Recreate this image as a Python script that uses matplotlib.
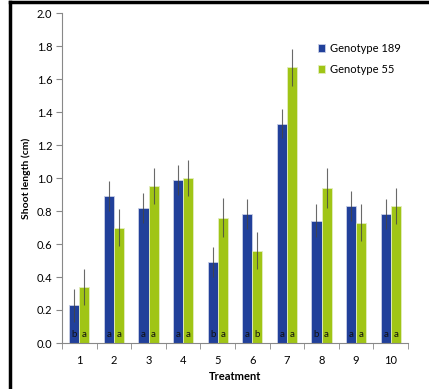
import numpy as np
import matplotlib.pyplot as plt
from matplotlib.lines import Line2D

treatments = ["1", "2", "3", "4", "5", "6", "7", "8", "9", "10"]
g189 = [0.23, 0.89, 0.82, 0.99, 0.49, 0.78, 1.33, 0.74, 0.83, 0.78]
g189_err = [0.10, 0.09, 0.09, 0.09, 0.09, 0.09, 0.09, 0.10, 0.09, 0.09]
g55 = [0.34, 0.70, 0.95, 1.00, 0.76, 0.56, 1.67, 0.94, 0.73, 0.83]
g55_err = [0.11, 0.11, 0.11, 0.11, 0.12, 0.11, 0.11, 0.12, 0.11, 0.11]
g189_letters = ["b", "a", "a", "a", "b", "a", "a", "b", "a", "a"]
g55_letters = ["a", "a", "a", "a", "a", "b", "a", "a", "a", "a"]

plt.rcParams['font.family'] = ['Lato', 'DejaVu Sans']

blue = "#21409A"
green = "#A0C516"

fig = plt.figure(figsize=(4.29, 3.89), dpi=100)
ax = fig.add_axes([62 / 429, 1 - 343 / 389, 346 / 429, 330 / 389])

x = np.arange(len(treatments))
w = 0.29
ax.bar(x - w / 2, g189, w, color=blue, edgecolor="#c9d0e6", linewidth=0.6, label="Genotype 189", zorder=2)
ax.bar(x + w / 2, g55, w, color=green, edgecolor="#e3edbf", linewidth=0.6, label="Genotype 55", zorder=2)
ax.errorbar(x - w / 2, g189, yerr=g189_err, fmt="none", ecolor="#444444", elinewidth=0.8, alpha=0.8, zorder=3)
ax.errorbar(x + w / 2, g55, yerr=g55_err, fmt="none", ecolor="#444444", elinewidth=0.8, alpha=0.8, zorder=3)

for i in range(len(treatments)):
    ax.text(x[i] - w / 2, 0.05, g189_letters[i], ha="center", va="center", fontsize=7, color="#111111", zorder=4)
    ax.text(x[i] + w / 2, 0.05, g55_letters[i], ha="center", va="center", fontsize=7, color="#111111", zorder=4)

ax.set_xlim(-0.5, len(treatments) - 0.5)
ax.set_ylim(0, 2.0)
ax.set_yticks(np.arange(0, 2.01, 0.2))
ax.set_yticklabels([f"{v:.1f}" for v in np.arange(0, 2.01, 0.2)], fontsize=8)
ax.set_xticks(x)
ax.set_xticklabels(treatments, fontsize=8)
ax.set_xticks(np.arange(-0.5, len(treatments), 1), minor=True)
ax.tick_params(axis="x", which="major", length=0, pad=9)
ax.tick_params(axis="x", which="minor", length=4, color="#888888", direction="out")
ax.tick_params(axis="y", length=4, color="#888888", direction="out", pad=3)

for s in ["top", "right"]:
    ax.spines[s].set_visible(False)
for s in ["left", "bottom"]:
    ax.spines[s].set_color("#888888")
    ax.spines[s].set_linewidth(0.8)

ax.set_ylabel("Shoot length (cm)", fontsize=7.5, fontweight="bold", labelpad=4)
ax.set_xlabel("Treatment", fontsize=8, fontweight="bold", labelpad=3)

ax.legend(loc="upper left", bbox_to_anchor=(0.71, 0.94), frameon=False, fontsize=8,
          handlelength=0.7, handleheight=0.7, handletextpad=0.4, labelspacing=0.9)

fig.add_artist(Line2D([10 / 429, 10 / 429], [0, 1 - 2 / 389], color="black", linewidth=2.5, transform=fig.transFigure))
fig.add_artist(Line2D([10 / 429, 1], [1 - 2 / 389, 1 - 2 / 389], color="black", linewidth=2.5, transform=fig.transFigure))

fig.savefig("out.png", dpi=100)
